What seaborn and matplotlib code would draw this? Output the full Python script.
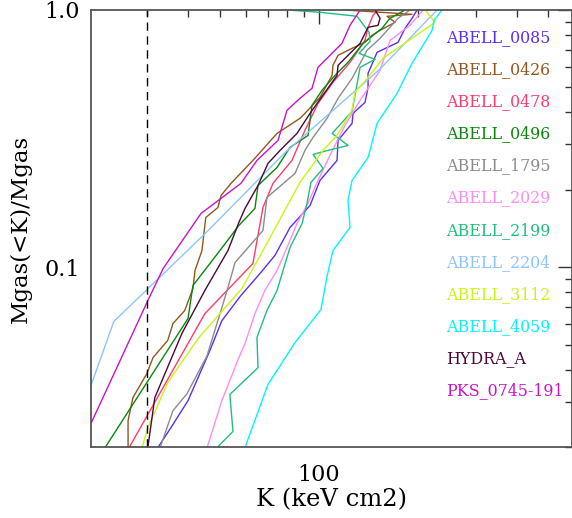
import numpy as np
import pandas as pd
import matplotlib
matplotlib.use('Agg')
import matplotlib.pyplot as plt
import seaborn as sns
from matplotlib.ticker import FixedLocator, FixedFormatter, LogLocator, NullFormatter

# ---------------- data (K in keV cm^2, cumulative gas-mass fraction) ----------------
K_A0085 = [32.3, 35.4, 39.9, 46.5, 50.6, 57.8, 66.1, 73.4, 81.6, 93.9, 100.7, 113.5, 114.3, 126.1,
           127.0, 138.1, 141.1, 141.1, 150.3, 174.1, 182.9, 192.1, 199.0]
F_A0085 = [0.0199, 0.0238, 0.0303, 0.0474, 0.0620, 0.0776, 0.0945, 0.1111, 0.1427, 0.1738, 0.2175,
           0.2601, 0.3112, 0.3624, 0.3964, 0.4373, 0.5003, 0.5672, 0.6846, 0.7487, 0.8488, 0.9284, 1.0]

K_A0426 = [26.2, 26.2, 27.1, 29.9, 31.2, 34.6, 35.9, 39.0, 41.3, 41.9, 44.0, 44.6, 45.2, 49.2, 50.3,
           53.9, 62.9, 74.5, 87.5, 90.6, 100.7, 109.6, 110.3, 114.3, 126.1, 138.1, 145.1, 153.5,
           170.5, 161.2, 192.1, 120.0]
F_A0426 = [0.0199, 0.0253, 0.0311, 0.0386, 0.0445, 0.0519, 0.0604, 0.0679, 0.0826, 0.0971, 0.1161,
           0.1352, 0.1561, 0.1707, 0.1901, 0.2117, 0.2601, 0.3313, 0.3790, 0.3964, 0.4574, 0.5571,
           0.6094, 0.6664, 0.7097, 0.7487, 0.7972, 0.8337, 0.8957, 0.9451, 0.9623, 1.0]

K_A0478 = [26.4, 44.9, 62.9, 67.5, 72.4, 82.7, 90.6, 99.3, 110.3, 124.3, 138.1, 141.1, 146.1, 151.3]
F_A0478 = [0.0199, 0.0660, 0.1034, 0.1707, 0.2117, 0.2601, 0.3403, 0.4334, 0.5232, 0.6259, 0.7623,
           0.8564, 0.9536, 1.0]

K_A0496 = [22.3, 39.9, 41.3, 49.9, 57.0, 63.8, 65.2, 74.5, 81.6, 92.6, 95.2, 102.1, 111.9, 122.6,
           136.2, 155.6, 164.6, 182.9]
F_A0496 = [0.0199, 0.0632, 0.0849, 0.1161, 0.1453, 0.1692, 0.2079, 0.2443, 0.2923, 0.3254, 0.4258,
           0.4870, 0.5571, 0.6259, 0.7421, 0.8488, 0.9284, 1.0]

K_A1795 = [32.8, 35.9, 39.6, 45.6, 50.6, 52.8, 55.5, 67.5, 69.4, 84.5, 90.6, 95.9, 105.8, 114.3,
           126.1, 140.1, 153.5, 174.1, 189.4]
F_A1795 = [0.0199, 0.0277, 0.0322, 0.0453, 0.0697, 0.0834, 0.1043, 0.1389, 0.1867, 0.2315, 0.2845,
           0.3196, 0.3790, 0.4534, 0.5423, 0.6969, 0.7760, 0.9284, 1.0]

K_A2029 = [45.6, 50.6, 57.0, 59.5, 63.8, 68.4, 74.5, 79.9, 85.7, 91.9, 99.3, 108.0, 120.0, 133.4,
           153.5, 164.6, 189.4, 207.5]
F_A2029 = [0.0199, 0.0303, 0.0445, 0.0505, 0.0660, 0.0812, 0.0971, 0.1193, 0.1479, 0.1738, 0.2175,
           0.2720, 0.3559, 0.4453, 0.5826, 0.7623, 0.8719, 1.0]

K_A2199 = [48.9, 54.7, 53.5, 65.2, 64.7, 69.4, 74.5, 77.7, 81.6, 88.8, 91.9, 94.5, 102.9, 95.9,
           106.5, 122.6, 109.6, 126.1, 133.4, 148.2, 132.4, 143.1, 142.1, 130.6, 100.7, 79.9]
F_A2199 = [0.0199, 0.0230, 0.0320, 0.0407, 0.0533, 0.0679, 0.0812, 0.0971, 0.1193, 0.1479, 0.1770,
           0.2136, 0.2421, 0.2745, 0.2845, 0.2975, 0.3313, 0.4035, 0.5985, 0.6429, 0.6784, 0.7555,
           0.8189, 0.9451, 0.980, 1.0]

K_A2204 = [20.2, 23.7, 45.2, 78.8, 153.5, 229.0]
F_A2204 = [0.0347, 0.0615, 0.136, 0.279, 0.59, 1.0]

K_A3112 = [28.9, 30.1, 34.6, 42.8, 58.2, 67.5, 87.5, 102.9, 113.5, 126.1, 128.7, 141.1, 156.7,
           225.8, 210.5]
F_A3112 = [0.0199, 0.0238, 0.0356, 0.0528, 0.0826, 0.1161, 0.2136, 0.2845, 0.3254, 0.4072, 0.4784,
           0.5471, 0.6487, 0.8957, 1.0]

K_A4059 = [59.5, 69.9, 84.5, 101.4, 105.8, 110.3, 124.3, 122.6, 126.1, 141.1, 150.3, 172.9, 192.1,
           221.1, 224.2, 237.1]
F_A4059 = [0.0199, 0.0350, 0.0509, 0.0685, 0.0920, 0.1161, 0.1427, 0.1818, 0.2175, 0.2672, 0.3624,
           0.4741, 0.6204, 0.8337, 0.9119, 1.0]

K_HYDRA = [30.1, 31.6, 38.2, 44.9, 52.8, 57.0, 59.5, 65.2, 69.9, 76.1, 85.7, 93.9, 113.5, 114.3,
           133.4, 141.1, 151.3, 153.5, 148.2]
F_HYDRA = [0.0199, 0.0311, 0.0552, 0.0812, 0.1161, 0.1493, 0.1692, 0.2079, 0.2532, 0.2845, 0.3313,
           0.3964, 0.5571, 0.6094, 0.7421, 0.8564, 0.8719, 0.9284, 1.0]

K_PKS = [20.2, 30.1, 33.5, 43.7, 57.8, 64.7, 75.0, 79.9, 87.5, 95.2, 99.3, 117.5, 124.3, 133.4]
F_PKS = [0.0247, 0.0742, 0.0988, 0.1618, 0.2117, 0.2601, 0.3112, 0.4072, 0.4534, 0.4958, 0.5985,
         0.7421, 0.8719, 1.0]

names = ["ABELL_0085", "ABELL_0426", "ABELL_0478", "ABELL_0496", "ABELL_1795", "ABELL_2029",
         "ABELL_2199", "ABELL_2204", "ABELL_3112", "ABELL_4059", "HYDRA_A", "PKS_0745-191"]
series_K = [K_A0085, K_A0426, K_A0478, K_A0496, K_A1795, K_A2029, K_A2199, K_A2204, K_A3112,
            K_A4059, K_HYDRA, K_PKS]
series_F = [F_A0085, F_A0426, F_A0478, F_A0496, F_A1795, F_A2029, F_A2199, F_A2204, F_A3112,
            F_A4059, F_HYDRA, F_PKS]
colors = ["#5a2dff", "#93561f", "#ff3a6e", "#0a870a", "#8c8c8c", "#ff8cf5",
          "#1fbf7f", "#8cc4ff", "#c8f514", "#00f5ff", "#4a0838", "#c814c8"]
K_CUT = 30.0

# ---------------- build table ----------------
rows = []
for n, ks, fs in zip(names, series_K, series_F):
    for i, (k, f) in enumerate(zip(ks, fs)):
        rows.append((n, i, k, f))
df = pd.DataFrame(rows, columns=["cluster", "idx", "K", "F"])

sns.set_theme(style="white")
plt.rcParams['font.family'] = ['DejaVu Serif']

W, H = 572, 518
fig = plt.figure(figsize=(W / 100, H / 100), dpi=100)
ax = fig.add_axes([91 / W, 1 - 447 / H, 481 / W, 437 / H])

sns.lineplot(data=df, x="K", y="F", hue="cluster", hue_order=names,
             palette=dict(zip(names, colors)), sort=False, estimator=None,
             lw=1.0, legend=False, ax=ax)

ax.set_xscale('log')
ax.set_yscale('log')
ax.set_xlim(20.2, 590)
ax.set_ylim(0.02, 1.0)

ax.axvline(K_CUT, color='black', lw=1.0, ls=(0, (6, 4)))

ax.xaxis.set_major_locator(FixedLocator([100]))
ax.xaxis.set_major_formatter(FixedFormatter(["100"]))
ax.xaxis.set_minor_locator(LogLocator(base=10, subs=np.arange(2, 10)))
ax.xaxis.set_minor_formatter(NullFormatter())
ax.yaxis.set_major_locator(FixedLocator([0.1, 1.0]))
ax.yaxis.set_major_formatter(FixedFormatter(["0.1", "1.0"]))
ax.yaxis.set_minor_locator(LogLocator(base=10, subs=np.arange(2, 10)))
ax.yaxis.set_minor_formatter(NullFormatter())

ax.tick_params(which='both', direction='in', top=True, right=True, color='#333333', width=1.0,
               labelsize=16, labelcolor='black')
ax.tick_params(which='major', length=10)
ax.tick_params(which='minor', length=5)
ax.tick_params(axis='x', which='major', pad=12)
ax.tick_params(axis='y', which='major', pad=8)

for s in ax.spines.values():
    s.set_color('#555555')
    s.set_linewidth(1.3)

ax.set_xlabel("K (keV cm2)", fontsize=17.5, color='black')
ax.set_ylabel("Mgas(<K)/Mgas", fontsize=16.5, color='black')
ax.xaxis.set_label_coords(0.5, -0.095)
ax.yaxis.set_label_coords(-0.122, 0.5)

for t in ax.yaxis.get_major_ticks():
    if abs(t.get_loc() - 1.0) < 1e-9:
        t.label1.set_va('top')

for i, (n, c) in enumerate(zip(names, colors)):
    yc = 37.5 + 32.1 * i
    ax.text((446 - 91) / 481, (447 - yc) / 437, n, color=c, fontsize=11.4,
            ha='left', va='center', transform=ax.transAxes)

fig.savefig("out.png", dpi=100)
